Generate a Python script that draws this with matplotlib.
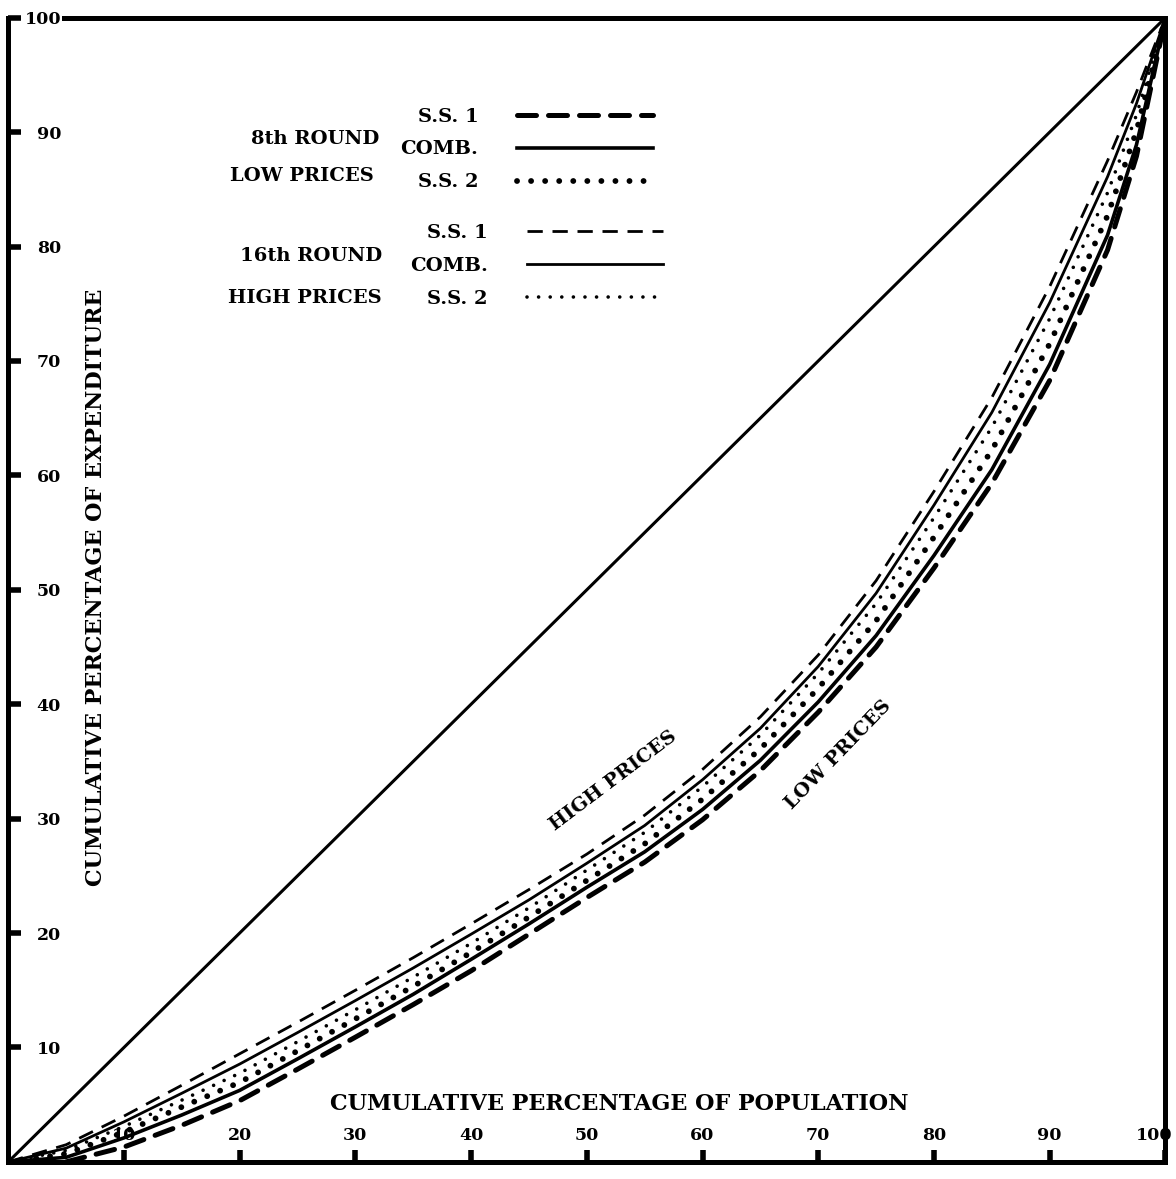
import matplotlib
matplotlib.use("Agg")
import matplotlib.pyplot as plt
from matplotlib.transforms import ScaledTranslation

plt.rcParams['font.family'] = ['DejaVu Serif']
plt.rcParams['font.weight'] = 'bold'

# cumulative percentage of population
pop = [0, 5, 10, 15, 20, 25, 30, 35, 40, 45, 50, 55, 60, 65, 70, 75, 80, 85, 90, 95, 97.5, 100]
pop_low_ss1 = pop[1:]

# 16th round, high prices
high_ss1 = [0, 1.5, 4.0, 6.7, 9.45, 12.2, 15.0, 17.85, 20.8, 23.8, 26.9, 30.3, 34.3, 38.9, 44.3, 50.8, 58.6, 66.8, 76.5, 87.5, 93.5, 100]
high_comb = [0, 1.2, 3.5, 6.0, 8.55, 11.3, 14.1, 16.95, 19.9, 22.9, 26.1, 29.4, 33.4, 37.9, 43.3, 49.7, 57.4, 65.5, 75.1, 86.1, 92.5, 100]
high_ss2 = [0, 1.0, 3.1, 5.4, 7.75, 10.5, 13.3, 16.15, 19.1, 22.2, 25.5, 28.8, 32.8, 37.3, 42.7, 48.8, 56.3, 64.2, 73.7, 84.7, 91.5, 100]

# 8th round, low prices
low_ss2 = [0, 0.7, 2.6, 4.8, 6.95, 9.7, 12.5, 15.35, 18.3, 21.4, 24.6, 27.8, 31.7, 36.1, 41.4, 47.3, 54.6, 62.2, 71.5, 82.7, 90.1, 100]
low_comb = [0, 0.4, 2.1, 4.1, 6.25, 9.0, 11.8, 14.65, 17.7, 20.8, 24.0, 27.1, 30.8, 35.1, 40.2, 46.0, 53.0, 60.5, 69.7, 81.0, 88.9, 100]
low_ss1 = [0, 1.3, 3.2, 5.35, 8.1, 10.9, 13.75, 16.7, 19.9, 23.1, 26.2, 29.9, 34.2, 39.3, 45.0, 51.9, 59.3, 68.3, 79.7, 87.9, 100]

ticks = [10, 20, 30, 40, 50, 60, 70, 80, 90, 100]

fig = plt.figure(figsize=(11.76, 11.79), dpi=100)
ax = fig.add_axes([0.007, 0.0145, 0.984, 0.9705])
ax.set_xlim(0, 100)
ax.set_ylim(0, 100)

# line of equality
ax.plot([0, 100], [0, 100], color='black', lw=2.2)

# high prices group
h1, = ax.plot(pop, high_ss1, color='black', lw=2.0, dashes=(5.5, 3.5), label='S.S. 1')
h2, = ax.plot(pop, high_comb, color='black', lw=2.0, label='COMB.')
h3, = ax.plot(pop, high_ss2, color='black', lw=2.6, dashes=(0.01, 3.2),
              dash_capstyle='round', label='S.S. 2')

# low prices group
l3, = ax.plot(pop, low_ss2, color='black', lw=4.2, dashes=(0.01, 2.4),
              dash_capstyle='round', label='S.S. 2')
l2, = ax.plot(pop, low_comb, color='black', lw=2.6, label='COMB.')
l1, = ax.plot(pop_low_ss1, low_ss1, color='black', lw=3.6, dashes=(3.8, 2.4),
              dash_capstyle='round', label='S.S. 1')

leg_font = {'family': 'DejaVu Serif', 'weight': 'bold', 'size': 14}
leg1 = ax.legend(handles=[l1, l2, l3], loc='upper left', bbox_to_anchor=(0.339, 0.9215),
                 frameon=False, markerfirst=False, handlelength=7.0, handletextpad=2.0,
                 labelspacing=0.77, borderpad=0, borderaxespad=0, prop=leg_font)
ax.add_artist(leg1)
ax.legend(handles=[h1, h2, h3], loc='upper left', bbox_to_anchor=(0.347, 0.8195),
          frameon=False, markerfirst=False, handlelength=7.0, handletextpad=2.0,
          labelspacing=0.77, borderpad=0, borderaxespad=0, prop=leg_font)

ax.text(32.1, 89.4, '8th ROUND', ha='right', va='center', fontsize=14, fontweight='bold')
ax.text(31.6, 86.2, 'LOW PRICES', ha='right', va='center', fontsize=14, fontweight='bold')
ax.text(32.3, 79.2, '16th ROUND', ha='right', va='center', fontsize=14, fontweight='bold')
ax.text(32.3, 75.5, 'HIGH PRICES', ha='right', va='center', fontsize=14, fontweight='bold')

ax.text(52.3, 33.3, 'HIGH PRICES', rotation=37, ha='center', va='center',
        fontsize=14, fontweight='bold')
ax.text(71.7, 35.6, 'LOW PRICES', rotation=46, ha='center', va='center',
        fontsize=14, fontweight='bold')

ax.text(52.8, 5.1, 'CUMULATIVE PERCENTAGE OF POPULATION', ha='center', va='center',
        fontsize=16, fontweight='bold')
ax.text(7.6, 50.2, 'CUMULATIVE PERCENTAGE OF EXPENDITURE', rotation=90, ha='center',
        va='center', fontsize=16, fontweight='bold')

ax.set_xticks(ticks)
ax.set_yticks(ticks)
ax.set_xticklabels([str(t) for t in ticks])
ax.set_yticklabels([str(t) for t in ticks])
ax.tick_params(axis='both', direction='in', length=9, width=4, labelsize=12.5)
ax.tick_params(axis='x', pad=-25)
ax.tick_params(axis='y', pad=-38)
for lab in ax.get_yticklabels():
    lab.set_horizontalalignment('right')
for lab in ax.get_xticklabels() + ax.get_yticklabels():
    lab.set_fontweight('bold')
# keep the last x label inside the picture
last = ax.get_xticklabels()[-1]
last.set_transform(last.get_transform() + ScaledTranslation(-8 / 72, 0, fig.dpi_scale_trans))

for s in ax.spines.values():
    s.set_linewidth(3.6)
ax.spines['top'].set_bounds(4.8, 100)

fig.savefig('out.png', dpi=100)
